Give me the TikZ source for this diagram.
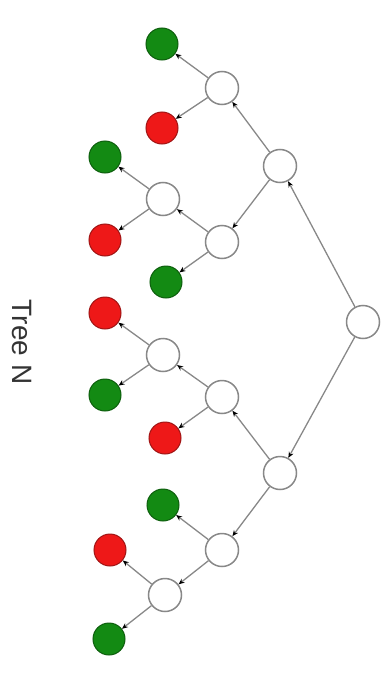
\documentclass[tikz,border=0pt]{standalone}
\usepackage{fontspec}
\setmainfont{Liberation Sans}
\usetikzlibrary{arrows.meta}
\definecolor{lgreen}{HTML}{138A13}
\definecolor{lgreenb}{HTML}{0D5E0D}
\definecolor{lred}{HTML}{EE1818}
\definecolor{lredb}{HTML}{A01414}
\definecolor{edgegray}{HTML}{888888}
\tikzset{
  inner/.style={circle, draw=edgegray, fill=white, line width=1.5pt, minimum size=33pt, inner sep=0pt},
  gleaf/.style={circle, draw=lgreenb, fill=lgreen, line width=1pt, minimum size=32pt, inner sep=0pt},
  rleaf/.style={circle, draw=lredb, fill=lred, line width=1pt, minimum size=32pt, inner sep=0pt},
  edge/.style={draw=edgegray, line width=1.3pt, -{Stealth[length=6pt,width=5pt,black]}}
}
\begin{document}
\begin{tikzpicture}[x=1pt,y=-1pt]
\useasboundingbox (0,0) rectangle (386,677);
% inner nodes
\node[inner] (r) at (363,322) {};
\node[inner] (a) at (280,166) {};
\node[inner] (b) at (280,473) {};
\node[inner] (a1) at (222,88) {};
\node[inner] (a2) at (222,242) {};
\node[inner] (a21) at (163,199) {};
\node[inner] (b1) at (222,397) {};
\node[inner] (b11) at (163,355) {};
\node[inner] (b2) at (222,550) {};
\node[inner] (b22) at (165,595) {};
% leaves
\node[gleaf] (l1) at (162,44) {};
\node[rleaf] (l2) at (162,128) {};
\node[gleaf] (l3) at (105,157) {};
\node[rleaf] (l4) at (105,240) {};
\node[gleaf] (l5) at (166,282) {};
\node[rleaf] (l6) at (105,313) {};
\node[gleaf] (l7) at (105,395) {};
\node[rleaf] (l8) at (165,438) {};
\node[gleaf] (l9) at (163,505) {};
\node[rleaf] (l10) at (110,550) {};
\node[gleaf] (l11) at (109,639) {};
% edges
\draw[edge] (r) -- (a);
\draw[edge] (r) -- (b);
\draw[edge] (a) -- (a1);
\draw[edge] (a) -- (a2);
\draw[edge] (a1) -- (l1);
\draw[edge] (a1) -- (l2);
\draw[edge] (a2) -- (a21);
\draw[edge] (a2) -- (l5);
\draw[edge] (a21) -- (l3);
\draw[edge] (a21) -- (l4);
\draw[edge] (b) -- (b1);
\draw[edge] (b) -- (b2);
\draw[edge] (b1) -- (b11);
\draw[edge] (b1) -- (l8);
\draw[edge] (b11) -- (l6);
\draw[edge] (b11) -- (l7);
\draw[edge] (b2) -- (l9);
\draw[edge] (b2) -- (b22);
\draw[edge] (b22) -- (l10);
\draw[edge] (b22) -- (l11);
% label
\node[rotate=-90, text=black!80, font=\fontsize{28}{30}\selectfont] (t) at (22,342) {Tree N};
\end{tikzpicture}
\end{document}
